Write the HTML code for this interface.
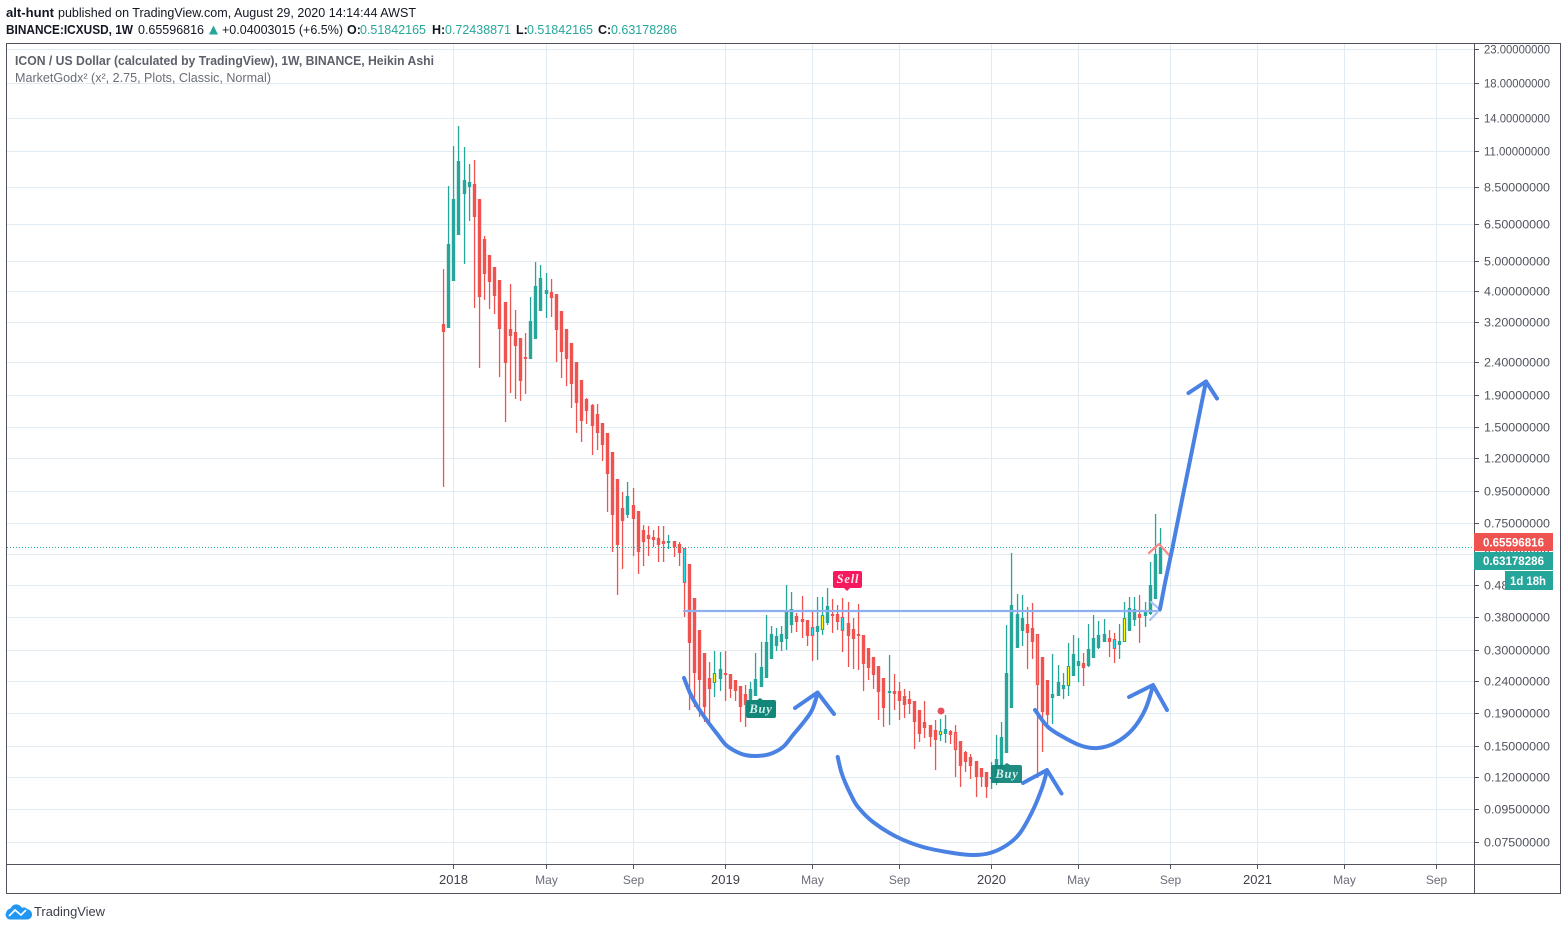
<!DOCTYPE html>
<html lang="en">
<head>
<meta charset="utf-8">
<title>ICON / US Dollar Chart</title>
<style>
html,body{margin:0;padding:0;background:#fff;width:1567px;height:930px;overflow:hidden}
svg{display:block;font-family:"Liberation Sans",sans-serif}
</style>
</head>
<body>
<svg id="chart" xmlns="http://www.w3.org/2000/svg" width="1567" height="930" viewBox="0 0 1567 930">
  <g id="grid"></g>
  <g id="bars"></g>
  <g id="priceline"></g>

  <g fill="none" stroke-linecap="round" stroke-linejoin="round">
    <polyline points="684,611 1160,611" stroke="#8fb0ee" stroke-width="2.2"/>
    <polyline points="1151,602 1160,609.5 1150,620" stroke="#a9c3f2" stroke-width="2.2"/>
    <polyline points="1149,553 1159,544 1169,555" stroke="#f88a8a" stroke-width="2.2"/>
    <path class="smooth" data-pts="684,678 690,693 697,706 708,722 718,735 726,745 735,751 745,755 757,756 770,754 783,747 793,735 803,723 811,712 815,702 817.5,693" stroke="#4a82e4" stroke-width="4"/>
    <polyline points="795,708 817.5,692.5 834,714" stroke="#4a82e4" stroke-width="4"/>
    <path class="smooth" data-pts="837.7,757 841,771 845,782 851,795 858,807 873,822 897,837 923,847 953,853 973,855 990,853 1007,845 1020,833 1033,810 1042,788 1047,771" stroke="#4a82e4" stroke-width="4"/>
    <polyline points="1023,783 1047,770 1061.5,793.5" stroke="#4a82e4" stroke-width="4"/>
    <path class="smooth" data-pts="1035,710 1048,727 1065,738 1082,746 1098,748 1115,743 1132,730 1145,710 1153,686" stroke="#4a82e4" stroke-width="4"/>
    <polyline points="1129,697 1153,685 1167,710" stroke="#4a82e4" stroke-width="4"/>
    <polyline points="1160,609 1165,583 1172,550 1182,500 1206,381.5" stroke="#4a82e4" stroke-width="4"/>
    <polyline points="1188.5,393 1206,381.5 1217,398.5" stroke="#4a82e4" stroke-width="4"/>
  </g>

  <g>
    <path d="M748,700h9l3,-2 3,2h11a2,2 0 0 1 2,2v14a2,2 0 0 1 -2,2h-26a2,2 0 0 1 -2,-2v-14a2,2 0 0 1 2,-2z" fill="#13867a"/>
    <text x="761" y="713" text-anchor="middle" font-family="'Liberation Serif',serif" font-weight="bold" font-style="italic" font-size="12.5" fill="#d3efeb" letter-spacing="0.8">Buy</text>
  </g>
  <g opacity="0.95">
    <path d="M993,765h11l3,-2 3,2h10a2,2 0 0 1 2,2v14a2,2 0 0 1 -2,2h-27a2,2 0 0 1 -2,-2v-14a2,2 0 0 1 2,-2z" fill="#13867a"/>
    <text x="1007" y="778" text-anchor="middle" font-family="'Liberation Serif',serif" font-weight="bold" font-style="italic" font-size="12.5" fill="#d3efeb" letter-spacing="0.8">Buy</text>
  </g>
  <g>
    <path d="M835,571h25a2,2 0 0 1 2,2v13a2,2 0 0 1 -2,2h-10l-3,3 -3,-3h-9a2,2 0 0 1 -2,-2v-13a2,2 0 0 1 2,-2z" fill="#f7195d"/>
    <text x="848" y="583" text-anchor="middle" font-family="'Liberation Serif',serif" font-weight="bold" font-style="italic" font-size="12.5" fill="#fde3ea" letter-spacing="0.8">Sell</text>
  </g>
  <circle cx="941" cy="711" r="3.5" fill="#e8505b"/>

  <g id="axes">
    <rect x="1475" y="44" width="85" height="849" fill="#fff"/>
    <rect x="7" y="865" width="1553" height="28" fill="#fff"/>
  </g>

  <rect x="6.5" y="43.5" width="1554" height="850" fill="none" stroke="#50535e"/>
  <line x1="7" y1="864.5" x2="1560" y2="864.5" stroke="#50535e"/>
  <line x1="1474.5" y1="44" x2="1474.5" y2="893" stroke="#50535e"/>

  <g font-weight="bold" font-size="12" fill="#fff">
    <rect x="1474" y="533" width="79" height="18" fill="#ef5350"/>
    <text x="1483" y="546.5" textLength="61" lengthAdjust="spacingAndGlyphs">0.65596816</text>
    <rect x="1474" y="552" width="79" height="18" fill="#26a69a"/>
    <text x="1483" y="565" textLength="61" lengthAdjust="spacingAndGlyphs">0.63178286</text>
    <rect x="1505" y="571" width="48" height="19" fill="#26a69a"/>
    <text x="1510" y="585" textLength="36" lengthAdjust="spacingAndGlyphs">1d 18h</text>
  </g>

  <g font-size="12.5" fill="#131722">
    <text x="6" y="17" font-weight="bold" textLength="48" lengthAdjust="spacingAndGlyphs">alt-hunt</text>
    <text x="58" y="17" textLength="358" lengthAdjust="spacingAndGlyphs">published on TradingView.com, August 29, 2020 14:14:44 AWST</text>
    <text x="6" y="34" font-weight="bold" textLength="127" lengthAdjust="spacingAndGlyphs">BINANCE:ICXUSD, 1W</text>
    <text x="138" y="34" textLength="66" lengthAdjust="spacingAndGlyphs">0.65596816</text>
    <path d="M209,34.5l4.5,-9 4.5,9z" fill="#26a69a"/>
    <text x="222" y="34" textLength="121" lengthAdjust="spacingAndGlyphs">+0.04003015 (+6.5%)</text>
    <text x="347" y="34" font-weight="bold">O:</text>
    <text x="360" y="34" fill="#26a69a" textLength="66" lengthAdjust="spacingAndGlyphs">0.51842165</text>
    <text x="432" y="34" font-weight="bold">H:</text>
    <text x="445" y="34" fill="#26a69a" textLength="66" lengthAdjust="spacingAndGlyphs">0.72438871</text>
    <text x="516" y="34" font-weight="bold">L:</text>
    <text x="527" y="34" fill="#26a69a" textLength="66" lengthAdjust="spacingAndGlyphs">0.51842165</text>
    <text x="598" y="34" font-weight="bold">C:</text>
    <text x="611" y="34" fill="#26a69a" textLength="66" lengthAdjust="spacingAndGlyphs">0.63178286</text>
  </g>

  <g font-size="12.5">
    <text x="15" y="65" font-weight="bold" fill="#5d606b" textLength="419" lengthAdjust="spacingAndGlyphs">ICON / US Dollar (calculated by TradingView), 1W, BINANCE, Heikin Ashi</text>
    <text x="15" y="82" fill="#6a6d78" textLength="256" lengthAdjust="spacingAndGlyphs">MarketGodx² (x², 2.75, Plots, Classic, Normal)</text>
  </g>

  <g>
    <path d="M6,914c0,-3 2,-5 4.5,-5.5c1.500,-3 4,-4.500 6.500,-4c2.500,0.300 4,1.800 5,3.500c1.500,-1 4,-0.800 5,1c2.500,0.300 5,2.500 5,5.500c0,2.800 -2,5 -5,5h-17c-2.500,0 -4.500,-2.500 -4.500,-5.500z" fill="#2196f3"/>
    <polyline points="9,916 15,910 21,915 26,910" fill="none" stroke="#fff" stroke-width="1.600"/>
    <text x="34" y="916" font-size="13" fill="#3a3e4a" textLength="71" lengthAdjust="spacingAndGlyphs">TradingView</text>
  </g>
</svg>

<script>
// Weekly Heikin Ashi values, oldest to newest.
var opens = [
3.16,3.07,4.32,6.02,8.11,8.51,8.69,7.80,5.85,5.21,
4.78,4.35,3.71,3.05,2.99,2.86,2.50,2.46,2.84,3.47,
3.93,3.98,3.93,3.47,3.05,2.76,2.41,2.11,1.84,1.764,
1.653,1.551,1.441,1.256,1.033,.838,.797,.857,.820,.716,
.690,.680,.675,.660,.651,.660,.646,.628,.560,.438,
.347,.293,.246,.236,.244,.255,.253,.241,.232,.218,
.199,.216,.229,.246,.282,.308,.319,.326,.360,.384,
.376,.373,.355,.343,.347,.365,.390,.390,.381,.365,
.350,.338,.335,.305,.286,.268,.246,.221,.223,.223,
.216,.210,.207,.194,.179,.175,.169,.163,.164,.167,
.166,.156,.144,.139,.135,.128,.124,.118,.115,.126,
.143,.198,.305,.345,.363,.352,.338,.286,.241,.213,
.216,.227,.231,.248,.268,.274,.268,.284,.305,.319,
.328,.324,.312,.317,.345,.373,.390,.384,.390,.435,
.5184];
var highs = [
4.71,8.57,11.43,13.2,11.35,10.05,10.34,7.80,5.98,5.21,
4.78,4.35,3.71,4.22,3.50,2.86,2.97,3.85,4.95,4.85,
4.57,4.38,3.93,3.47,3.05,2.76,2.41,2.11,1.855,1.777,
1.777,1.551,1.441,1.256,1.033,.942,1.012,.969,.820,.742,
.737,.716,.737,.737,.690,.660,.656,.628,.560,.438,
.347,.293,.276,.297,.295,.299,.253,.241,.232,.234,
.239,.293,.317,.387,.358,.352,.358,.480,.457,.393,
.445,.373,.399,.441,.441,.470,.435,.416,.438,.426,
.379,.420,.335,.305,.286,.268,.246,.289,.253,.239,
.227,.224,.208,.194,.207,.175,.181,.183,.188,.169,
.175,.156,.145,.142,.135,.128,.124,.134,.163,.179,
.360,.605,.450,.448,.410,.423,.338,.286,.241,.291,
.270,.255,.315,.335,.328,.293,.363,.387,.371,.376,
.347,.340,.363,.426,.441,.441,.448,.426,.568,.803,
.7244];
var lows = [
.976,3.07,4.32,6.02,4.88,6.66,3.55,2.30,3.77,3.52,
3.40,2.16,1.562,1.92,1.84,1.815,1.91,2.46,2.84,3.47,
3.31,3.33,2.41,2.14,2.02,1.726,1.441,1.349,1.54,1.229,
1.275,1.178,.814,.609,.448,.540,.780,.593,.521,.552,
.593,.633,.568,.568,.624,.588,.552,.381,.194,.199,
.185,.178,.179,.214,.224,.208,.213,.208,.178,.172,
.195,.216,.229,.246,.282,.297,.297,.301,.340,.343,
.328,.308,.278,.280,.335,.360,.340,.347,.295,.266,
.262,.260,.224,.241,.226,.181,.172,.175,.195,.181,
.184,.189,.147,.154,.159,.149,.126,.156,.153,.152,
.120,.112,.124,.118,.104,.112,.103,.110,.113,.126,
.143,.198,.305,.308,.262,.282,.119,.144,.171,.176,
.216,.211,.216,.248,.239,.231,.266,.284,.303,.319,
.286,.274,.282,.317,.345,.358,.315,.355,.387,.435,
.5184];
var closes = [
2.99,5.64,7.80,10.27,8.95,8.82,6.85,3.85,4.54,4.29,
3.87,3.05,2.39,2.90,2.70,2.10,2.46,3.24,4.16,4.41,
4.04,3.82,3.03,2.59,2.46,2.05,1.79,1.574,1.689,1.518,
1.441,1.32,1.074,.797,.642,.764,.915,.775,.609,.656,
.670,.665,.642,.646,.660,.633,.605,.488,.315,.255,
.242,.199,.226,.255,.262,.251,.226,.224,.199,.202,
.226,.244,.266,.319,.338,.331,.338,.396,.404,.368,
.368,.333,.331,.358,.387,.412,.387,.368,.345,.333,
.324,.331,.272,.264,.251,.221,.197,.223,.219,.207,
.202,.204,.179,.164,.171,.160,.157,.167,.170,.163,
.146,.130,.134,.130,.120,.120,.112,.120,.137,.160,
.255,.416,.390,.379,.340,.319,.234,.192,.188,.219,
.239,.234,.268,.291,.278,.264,.303,.328,.335,.338,
.317,.303,.321,.379,.407,.404,.379,.401,.480,.601,
.6318];
var yellowBars = [53,74,97,122,133];
var cyanBars = [47,72,78,100,116,131];

var priceTicks = [23,18,14,11,8.5,6.5,5,4,3.2,2.4,1.9,1.5,1.2,.95,.75,.6,.48,.38,.3,.24,.19,.15,.12,.095,.075];
var timeBars = [2,20,37,55,72,89,107,124,142,159,176,194];
var timeLabels = ["2018","May","Sep","2019","May","Sep","2020","May","Sep","2021","May","Sep"];
var lastPrice = 0.63178286;

var NS = "http://www.w3.org/2000/svg";
function yScale(p){ return 118 + 138.46 * Math.log(14 / p); }
function xScale(i){ return Math.round(443.1 + 5.12 * i); }
function mk(tag, parent, attrs){
  var el = document.createElementNS(NS, tag);
  for (var k in attrs) el.setAttribute(k, attrs[k]);
  parent.appendChild(el);
  return el;
}

// Smooth the hand-drawn annotation strokes (Catmull-Rom to cubic Bezier).
Array.prototype.forEach.call(document.querySelectorAll("path.smooth"), function(el){
  var p = el.getAttribute("data-pts").split(" ").map(function(s){ return s.split(",").map(Number); });
  var d = "M" + p[0][0] + "," + p[0][1];
  for (var i = 0; i < p.length - 1; i++) {
    var a = p[Math.max(i - 1, 0)], b = p[i], c = p[i + 1], e = p[Math.min(i + 2, p.length - 1)];
    d += "C" + (b[0] + (c[0] - a[0]) / 6) + "," + (b[1] + (c[1] - a[1]) / 6) + " " +
         (c[0] - (e[0] - b[0]) / 6) + "," + (c[1] - (e[1] - b[1]) / 6) + " " + c[0] + "," + c[1];
  }
  el.setAttribute("d", d);
});

var grid = document.getElementById("grid");
var axes = document.getElementById("axes");
var barsG = document.getElementById("bars");
var priceLineG = document.getElementById("priceline");

priceTicks.forEach(function(p){
  var y = Math.round(yScale(p)) + 0.5;
  var g = mk("line", grid, {x1:7, x2:1474, y1:y, y2:y, stroke:"#e3ebf2", "stroke-width":1});
  
  
});
timeBars.forEach(function(b){
  var x = xScale(b) + 0.5;
  var g = mk("line", grid, {x1:x, x2:x, y1:44, y2:864, stroke:"#e3ebf2", "stroke-width":1});
  
  
});

var pl = mk("line", priceLineG, {x1:7, x2:1474, y1:Math.round(yScale(lastPrice))+0.5, y2:Math.round(yScale(lastPrice))+0.5, stroke:"#26a69a", "stroke-width":1, "stroke-dasharray":"1 2"});



opens.forEach(function(o, i){
  var c = closes[i], up = c >= o;
  var col = up ? "#26a69a" : "#ef5350";
  var x = xScale(i);
  var g = mk("g", barsG, {});
  
  
  var yh = Math.round(yScale(highs[i])), yl = Math.round(yScale(lows[i]));
  var top = Math.round(yScale(Math.max(o, c))), bot = Math.round(yScale(Math.min(o, c)));
  var h = Math.max(bot - top, 2);
  var wick = mk("rect", g, {x:x - 0.1, y:yh, width:1.3, height:Math.max(yl - yh, 1), fill:col});
  
  
  var body = mk("rect", g, {x:x - 1.2, y:top, width:3.4, height:h, fill:col});
  
  
  var fill = yellowBars.indexOf(i) >= 0 ? "#ffff00" : (cyanBars.indexOf(i) >= 0 ? "#19e0ea" : null);
  if (fill && h > 2) {
    var inner = mk("rect", g, {x:x, y:top + 1, width:1, height:h - 2, fill:fill});
    
    
  }
});

priceTicks.forEach(function(p){
  var y = Math.round(yScale(p));
  var t = mk("rect", axes, {x:1475, y:y, width:4, height:1, fill:"#50535e"});
  
  
  var l = mk("text", axes, {x:1484, y:y + 4.5, "font-size":"11.5", fill:"#50535e", textLength:"66", lengthAdjust:"spacingAndGlyphs"});
  
  
  l.textContent = p.toFixed(8);
});
timeBars.forEach(function(b, i){
  var x = xScale(b);
  var t = mk("rect", axes, {x:x, y:865, width:1, height:4, fill:"#50535e"});
  
  
  var year = /^\d+$/.test(timeLabels[i]);
  var l = mk("text", axes, {x:x + 0.5, y:884, "text-anchor":"middle", "font-size": year ? "13" : "12", fill: year ? "#3f424d" : "#6a6d78"});
  
  
  l.textContent = timeLabels[i];
});
</script>
</body>
</html>
